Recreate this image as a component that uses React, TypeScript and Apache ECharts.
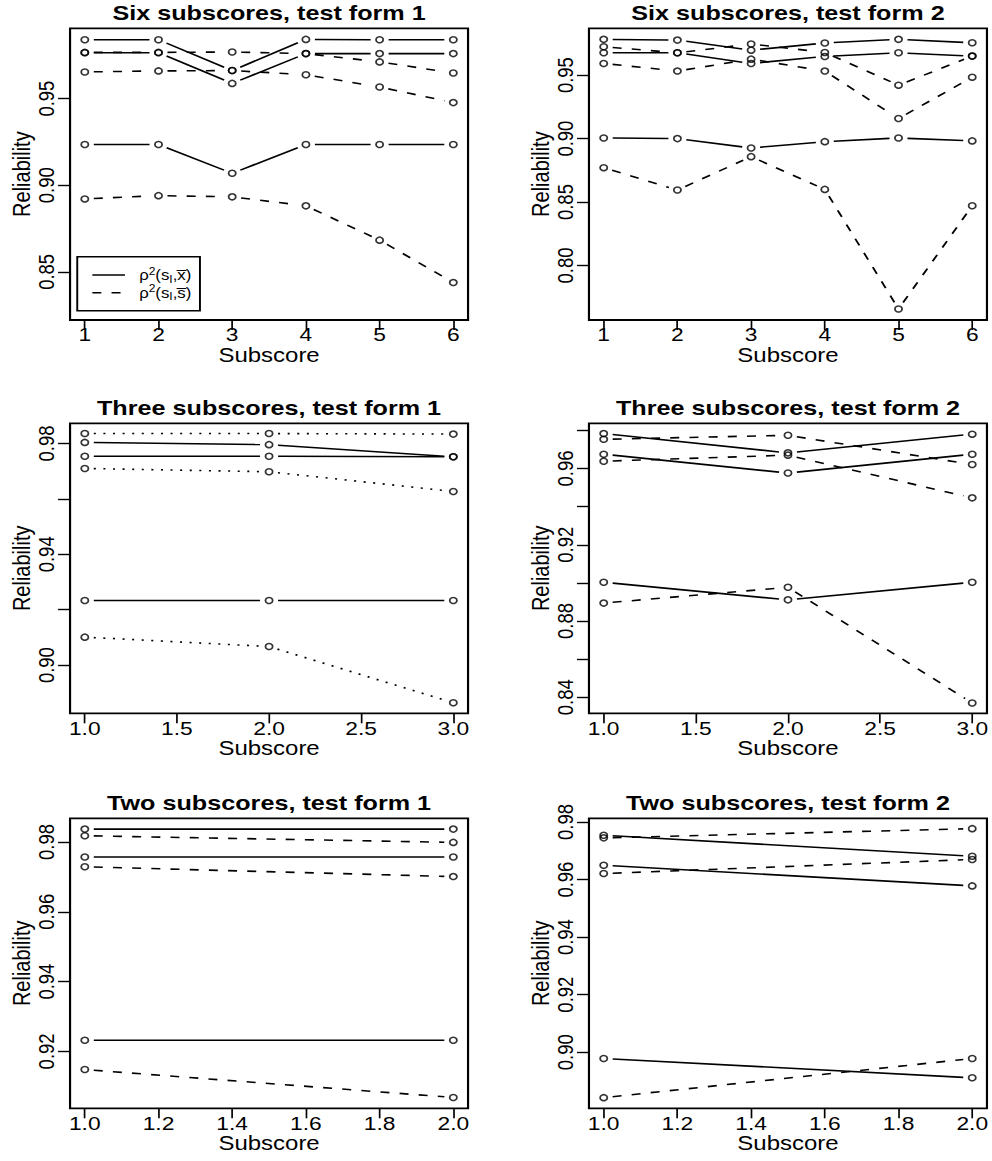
import React, { useEffect, useRef } from "react";
import * as echarts from "echarts";

// ---------- data ----------
const subscoresSix = [1, 2, 3, 4, 5, 6];
const subscoresThree = [1, 2, 3];
const subscoresTwo = [1, 2];

// solid lines: rho^2(s_I, xbar); dashed/dotted lines: rho^2(s_I, sbar)
const sixForm1Xbar = [
  [0.984, 0.984, 0.9662, 0.9842, 0.984, 0.984],
  [0.9765, 0.9765, 0.9588, 0.976, 0.976, 0.976],
  [0.9235, 0.9235, 0.9069, 0.9235, 0.9235, 0.9235],
];
const sixForm1Sbar = [
  [0.9767, 0.9767, 0.9769, 0.976, 0.9712, 0.9648],
  [0.9654, 0.966, 0.9662, 0.9638, 0.9567, 0.9477],
  [0.8921, 0.894, 0.8933, 0.8881, 0.8683, 0.8438],
];
const sixForm2Xbar = [
  [0.9782, 0.9776, 0.9697, 0.9753, 0.9782, 0.9755],
  [0.9676, 0.9676, 0.9592, 0.9647, 0.9676, 0.965],
  [0.9005, 0.9, 0.8926, 0.8976, 0.9005, 0.8982],
];
const sixForm2Sbar = [
  [0.9724, 0.9676, 0.9745, 0.9679, 0.9421, 0.965],
  [0.9592, 0.9532, 0.9626, 0.9532, 0.9158, 0.9484],
  [0.8771, 0.8595, 0.8858, 0.86, 0.7658, 0.8471],
];
const threeForm1Xbar = [
  [0.9804, 0.9796, 0.9752],
  [0.9754, 0.9754, 0.9752],
  [0.9233, 0.9233, 0.9233],
];
const threeForm1Sbar = [
  [0.9836, 0.9836, 0.9834],
  [0.971, 0.9698, 0.9627],
  [0.9101, 0.9067, 0.8864],
];
const threeForm2Xbar = [
  [0.9783, 0.9682, 0.978],
  [0.9675, 0.9576, 0.9675],
  [0.9003, 0.8911, 0.9003],
];
const threeForm2Sbar = [
  [0.9753, 0.9774, 0.9621],
  [0.9638, 0.967, 0.9446],
  [0.8894, 0.8977, 0.837],
];
const twoForm1Xbar = [
  [0.9837, 0.9837],
  [0.9757, 0.9757],
  [0.9232, 0.9232],
];
const twoForm1Sbar = [
  [0.9818, 0.9799],
  [0.9729, 0.9701],
  [0.9148, 0.9068],
];
const twoForm2Xbar = [
  [0.9754, 0.9681],
  [0.965, 0.9578],
  [0.8978, 0.8911],
];
const twoForm2Sbar = [
  [0.9745, 0.9777],
  [0.9621, 0.967],
  [0.8842, 0.8978],
];

// tick values
const xTicksSix = [1, 2, 3, 4, 5, 6];
const xTicksThree = [1, 1.5, 2, 2.5, 3];
const xTicksTwo = [1, 1.2, 1.4, 1.6, 1.8, 2];
const yTicksSix1 = [0.85, 0.9, 0.95];
const yTicksSix2 = [0.8, 0.85, 0.9, 0.95];
const yTicksThree1 = [0.9, 0.92, 0.94, 0.96, 0.98];
const yLabelsThree1 = [0.9, 0.94, 0.98];
const yTicksThree2 = [0.84, 0.86, 0.88, 0.9, 0.92, 0.94, 0.96, 0.98];
const yLabelsThree2 = [0.84, 0.88, 0.92, 0.96];
const yTicksTwo1 = [0.92, 0.94, 0.96, 0.98];
const yTicksTwo2 = [0.9, 0.92, 0.94, 0.96, 0.98];

const titles = [
  "Six subscores, test form 1",
  "Six subscores, test form 2",
  "Three subscores, test form 1",
  "Three subscores, test form 2",
  "Two subscores, test form 1",
  "Two subscores, test form 2",
];

// ---------- layout / style ----------
const W = 827;
const H = 1161;
const STRETCH = 992 / W;
const FONT = "'Liberation Sans', Arial, Helvetica, sans-serif";
const DASH = [7.5, 8.5];
const DOT = [1.7, 6.3];
const LW = 1.6;
const GAP = 7.5;

const colLeft = [58.4, 491.0];
const gridW = 331.8;
const rowTop = [28.3, 423.3, 818.3];
const rowH = [291.7, 290, 290];
const titleTop = [2, 397, 792];

const panels = [
  { xs: subscoresSix, xbar: sixForm1Xbar, sbar: sixForm1Sbar, dash: DASH, xTicks: xTicksSix, xDigits: 0, yTicks: yTicksSix1, yLabels: yTicksSix1, xMin: 0.8, xMax: 6.2, yMin: 0.8222, yMax: 0.9906 },
  { xs: subscoresSix, xbar: sixForm2Xbar, sbar: sixForm2Sbar, dash: DASH, xTicks: xTicksSix, xDigits: 0, yTicks: yTicksSix2, yLabels: yTicksSix2, xMin: 0.8, xMax: 6.2, yMin: 0.7571, yMax: 0.9869 },
  { xs: subscoresThree, xbar: threeForm1Xbar, sbar: threeForm1Sbar, dash: DOT, xTicks: xTicksThree, xDigits: 1, yTicks: yTicksThree1, yLabels: yLabelsThree1, xMin: 0.92, xMax: 3.08, yMin: 0.8826, yMax: 0.9873 },
  { xs: subscoresThree, xbar: threeForm2Xbar, sbar: threeForm2Sbar, dash: DASH, xTicks: xTicksThree, xDigits: 1, yTicks: yTicksThree2, yLabels: yLabelsThree2, xMin: 0.92, xMax: 3.08, yMin: 0.8316, yMax: 0.9837 },
  { xs: subscoresTwo, xbar: twoForm1Xbar, sbar: twoForm1Sbar, dash: DASH, xTicks: xTicksTwo, xDigits: 1, yTicks: yTicksTwo1, yLabels: yTicksTwo1, xMin: 0.96, xMax: 2.04, yMin: 0.9037, yMax: 0.9868 },
  { xs: subscoresTwo, xbar: twoForm2Xbar, sbar: twoForm2Sbar, dash: DASH, xTicks: xTicksTwo, xDigits: 1, yTicks: yTicksTwo2, yLabels: yTicksTwo2, xMin: 0.96, xMax: 2.04, yMin: 0.8805, yMax: 0.9813 },
];

function makeRender(dash: number[] | null) {
  return (params: any, api: any) => {
    const a = api.coord([api.value(0), api.value(1)]);
    const b = api.coord([api.value(2), api.value(3)]);
    const dx = b[0] - a[0];
    const dy = b[1] - a[1];
    const len = Math.hypot(dx, dy);
    if (len <= 2 * GAP) return { type: "group", children: [] };
    const ux = dx / len;
    const uy = dy / len;
    const style: any = { stroke: "#000", lineWidth: LW, fill: null };
    if (dash) style.lineDash = dash;
    return {
      type: "line",
      silent: true,
      shape: { x1: a[0] + ux * GAP, y1: a[1] + uy * GAP, x2: b[0] - ux * GAP, y2: b[1] - uy * GAP },
      style,
    };
  };
}

function buildOption() {
  const grid: any[] = [];
  const xAxis: any[] = [];
  const yAxis: any[] = [];
  const title: any[] = [];
  const series: any[] = [];

  panels.forEach((p, i) => {
    const col = i % 2;
    const row = Math.floor(i / 2);
    grid.push({
      left: colLeft[col],
      top: rowTop[row],
      width: gridW,
      height: rowH[row],
      show: true,
      borderColor: "#000",
      borderWidth: 1.8,
      backgroundColor: "transparent",
      containLabel: false,
    });
    title.push({
      text: titles[i],
      left: colLeft[col] + gridW / 2,
      top: titleTop[row],
      textAlign: "center",
      padding: 0,
      textStyle: { fontFamily: FONT, fontSize: 21, fontWeight: "bold", color: "#000" },
    });
    xAxis.push({
      type: "value",
      gridIndex: i,
      min: p.xMin,
      max: p.xMax,
      axisLine: { show: false, onZero: false },
      splitLine: { show: false },
      axisTick: { show: true, length: 10, lineStyle: { color: "#000", width: 1.4 }, customValues: p.xTicks },
      axisLabel: {
        customValues: p.xTicks,
        margin: 5,
        fontSize: 19,
        fontFamily: FONT,
        color: "#000",
        formatter: (v: number) => v.toFixed(p.xDigits),
      },
      name: "Subscore",
      nameLocation: "middle",
      nameGap: 25,
      nameTextStyle: { fontFamily: FONT, fontSize: 20, color: "#000" },
    });
    yAxis.push({
      type: "value",
      gridIndex: i,
      min: p.yMin,
      max: p.yMax,
      axisLine: { show: false, onZero: false },
      splitLine: { show: false },
      axisTick: { show: true, length: 10, lineStyle: { color: "#000", width: 1.4 }, customValues: p.yTicks },
      axisLabel: {
        customValues: p.yLabels,
        rotate: 90,
        margin: 10,
        fontSize: 18.5,
        fontFamily: FONT,
        color: "#000",
        formatter: (v: number) => v.toFixed(2),
      },
      name: "Reliability",
      nameLocation: "middle",
      nameRotate: 90,
      nameGap: 29,
      nameTextStyle: { fontFamily: FONT, fontSize: 20, color: "#000" },
    });

    const addLines = (groups: number[][], dash: number[] | null) => {
      groups.forEach((vals) => {
        const segs: number[][] = [];
        for (let k = 0; k < vals.length - 1; k++) {
          segs.push([p.xs[k], vals[k], p.xs[k + 1], vals[k + 1]]);
        }
        series.push({
          type: "custom",
          xAxisIndex: i,
          yAxisIndex: i,
          dimensions: ["x1", "y1", "x2", "y2"],
          encode: { x: [0, 2], y: [1, 3] },
          renderItem: makeRender(dash),
          data: segs,
          silent: true,
          z: 2,
        });
      });
    };
    addLines(p.xbar, null);
    addLines(p.sbar, p.dash);

    const pts: number[][] = [];
    [...p.xbar, ...p.sbar].forEach((vals) => vals.forEach((v, k) => pts.push([p.xs[k], v])));
    series.push({
      type: "scatter",
      xAxisIndex: i,
      yAxisIndex: i,
      symbol: "circle",
      symbolSize: 6,
      itemStyle: { color: "rgba(0,0,0,0)", borderColor: "#000", borderWidth: 1.5 },
      data: pts,
      silent: true,
      z: 3,
    });
  });

  const richStyles = {
    t: { fontFamily: FONT, fontSize: 14, color: "#000", lineHeight: 18, verticalAlign: "middle" },
    sup: { fontFamily: FONT, fontSize: 10, color: "#000", lineHeight: 18, verticalAlign: "top" },
    sub: { fontFamily: FONT, fontSize: 10, color: "#000", lineHeight: 18, verticalAlign: "bottom" },
  };

  const legend = {
    type: "group",
    z: 100,
    children: [
      {
        type: "rect",
        shape: { x: 64.4, y: 256.7, width: 102.3, height: 54 },
        style: { fill: "#fff", stroke: "#000", lineWidth: 1.6 },
      },
      {
        type: "line",
        shape: { x1: 77, y1: 275, x2: 104.2, y2: 275 },
        style: { stroke: "#000", lineWidth: LW },
      },
      {
        type: "line",
        shape: { x1: 77, y1: 292.7, x2: 104.2, y2: 292.7 },
        style: { stroke: "#000", lineWidth: LW, lineDash: DASH },
      },
      {
        type: "text",
        x: 116,
        y: 275,
        style: {
          text: "{t|ρ}{sup|2}{t|(s}{sub|I}{t|,x\u0305)}",
          verticalAlign: "middle",
          rich: richStyles,
        },
      },
      {
        type: "text",
        x: 116,
        y: 292.7,
        style: {
          text: "{t|ρ}{sup|2}{t|(s}{sub|I}{t|,s\u0305)}",
          verticalAlign: "middle",
          rich: richStyles,
        },
      },
    ],
  };

  return {
    animation: false,
    backgroundColor: "#fff",
    textStyle: { fontFamily: FONT },
    title,
    grid,
    xAxis,
    yAxis,
    series,
    graphic: [legend],
  };
}

export default function App() {
  const ref = useRef<HTMLDivElement>(null);
  useEffect(() => {
    if (!ref.current) return;
    const chart = echarts.init(ref.current, null, { renderer: "svg" });
    chart.setOption(buildOption() as any);
    return () => chart.dispose();
  }, []);
  return (
    <div
      style={{
        position: "absolute",
        left: 0,
        top: 0,
        width: 992,
        height: H,
        overflow: "hidden",
        background: "#fff",
      }}
    >
      <div
        ref={ref}
        style={{
          width: W,
          height: H,
          transform: `scaleX(${STRETCH})`,
          transformOrigin: "0 0",
        }}
      />
    </div>
  );
}
